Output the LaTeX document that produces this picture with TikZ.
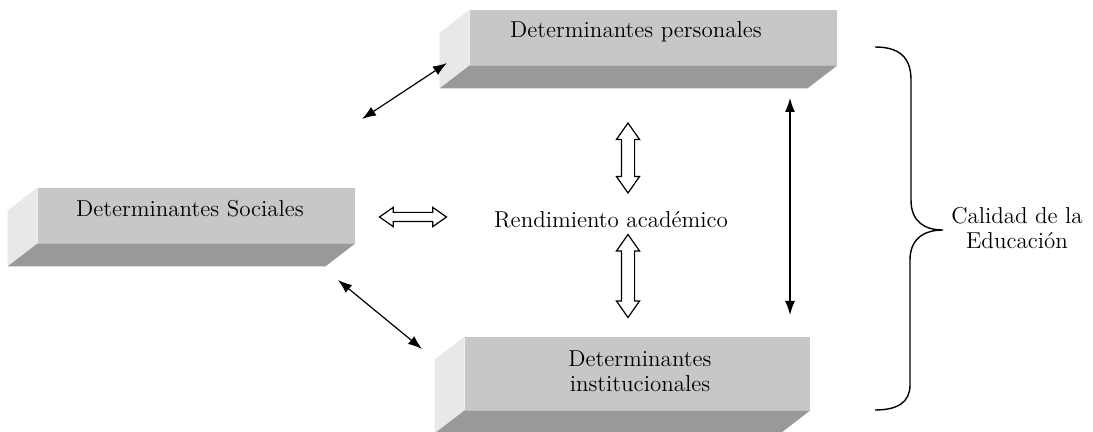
\documentclass[tikz,border=0pt]{standalone}
\usetikzlibrary{shapes.arrows, calc, arrows.meta}

\definecolor{frontgray}{gray}{0.78}
\definecolor{bottomgray}{gray}{0.6}
\definecolor{sidegray}{gray}{0.91}

% side and bottom faces of a slab
\newcommand{\slabfaces}[1]{%
  \fill[sidegray] (#1.north west) -- (#1.south west) -- ++(-30,23) -- ($(#1.north west)+(-30,23)$) -- cycle;
  \fill[bottomgray] (#1.south west) -- (#1.south east) -- ++(-30,23) -- ($(#1.south west)+(-30,23)$) -- cycle;
}

\tikzset{
  slab/.style={fill=frontgray, inner sep=0},
  lbl/.style={font=\fontsize{11.5}{12.5}\selectfont, align=center, inner sep=0},
  hollow/.style={double arrow, draw, line width=0.6pt, fill=white, inner xsep=0,
    double arrow head extend=2.5pt, double arrow tip angle=70},
  thin/.style={{Latex[length=7pt,width=5pt]}-{Latex[length=7pt,width=5pt]}, line width=0.6pt}
}

\begin{document}
\begin{tikzpicture}[x=0.5pt, y=-0.5pt]
    \useasboundingbox (0,0) rectangle (1093,432);

    \node (pers) [slab, minimum width=183.5pt, minimum height=27.5pt] at (653.5,37.5) {};
    \node (soc) [slab, minimum width=158.5pt, minimum height=27.5pt] at (196.5,215.5) {};
    \node (inst) [slab, minimum width=172.5pt, minimum height=36.5pt] at (637.5,373.5) {};
    \slabfaces{pers}
    \slabfaces{soc}
    \slabfaces{inst}

    \node (perslbl) [lbl, anchor=base] at (636,38) {Determinantes personales};
    \node (soclbl) [lbl, anchor=base] at (190,217) {Determinantes Sociales};
    \node (instlbl) [lbl] at (640,371) {Determinantes\\institucionales};
    \node (rend) [lbl, anchor=base] at (611,228) {Rendimiento acad\'emico};
    \node (calidad) [lbl] at (1017,228) {Calidad de la\\Educaci\'on};

    % hollow arrows round the centre
    \node (up) [hollow, rotate=90, inner ysep=3pt, minimum height=35pt] at (628,158) {};
    \node (down) [hollow, rotate=90, inner ysep=3pt, minimum height=41.5pt] at (628,276) {};
    \node (side) [hollow, inner ysep=2pt, minimum height=33.5pt] at (413,217) {};

    \coordinate (ps1) at (362,119);
    \coordinate (ps2) at (447,63);
    \coordinate (si1) at (338,280);
    \coordinate (si2) at (422,349);
    \coordinate (pi1) at (790,98);
    \coordinate (pi2) at (790,315);
    \draw[thin] (ps1) -- (ps2);
    \draw[thin] (si1) -- (si2);
    \draw[thin] (pi1) -- (pi2);

    % brace
    \draw[line width=0.7pt] (875,47) .. controls (900,47) and (911,58) .. (911,80) -- (911,200)
      .. controls (911,222) and (925,230) .. (943,230)
      .. controls (925,230) and (910,238) .. (910,260) -- (910,385)
      .. controls (910,402) and (898,410) .. (875,410);
\end{tikzpicture}
\end{document}
